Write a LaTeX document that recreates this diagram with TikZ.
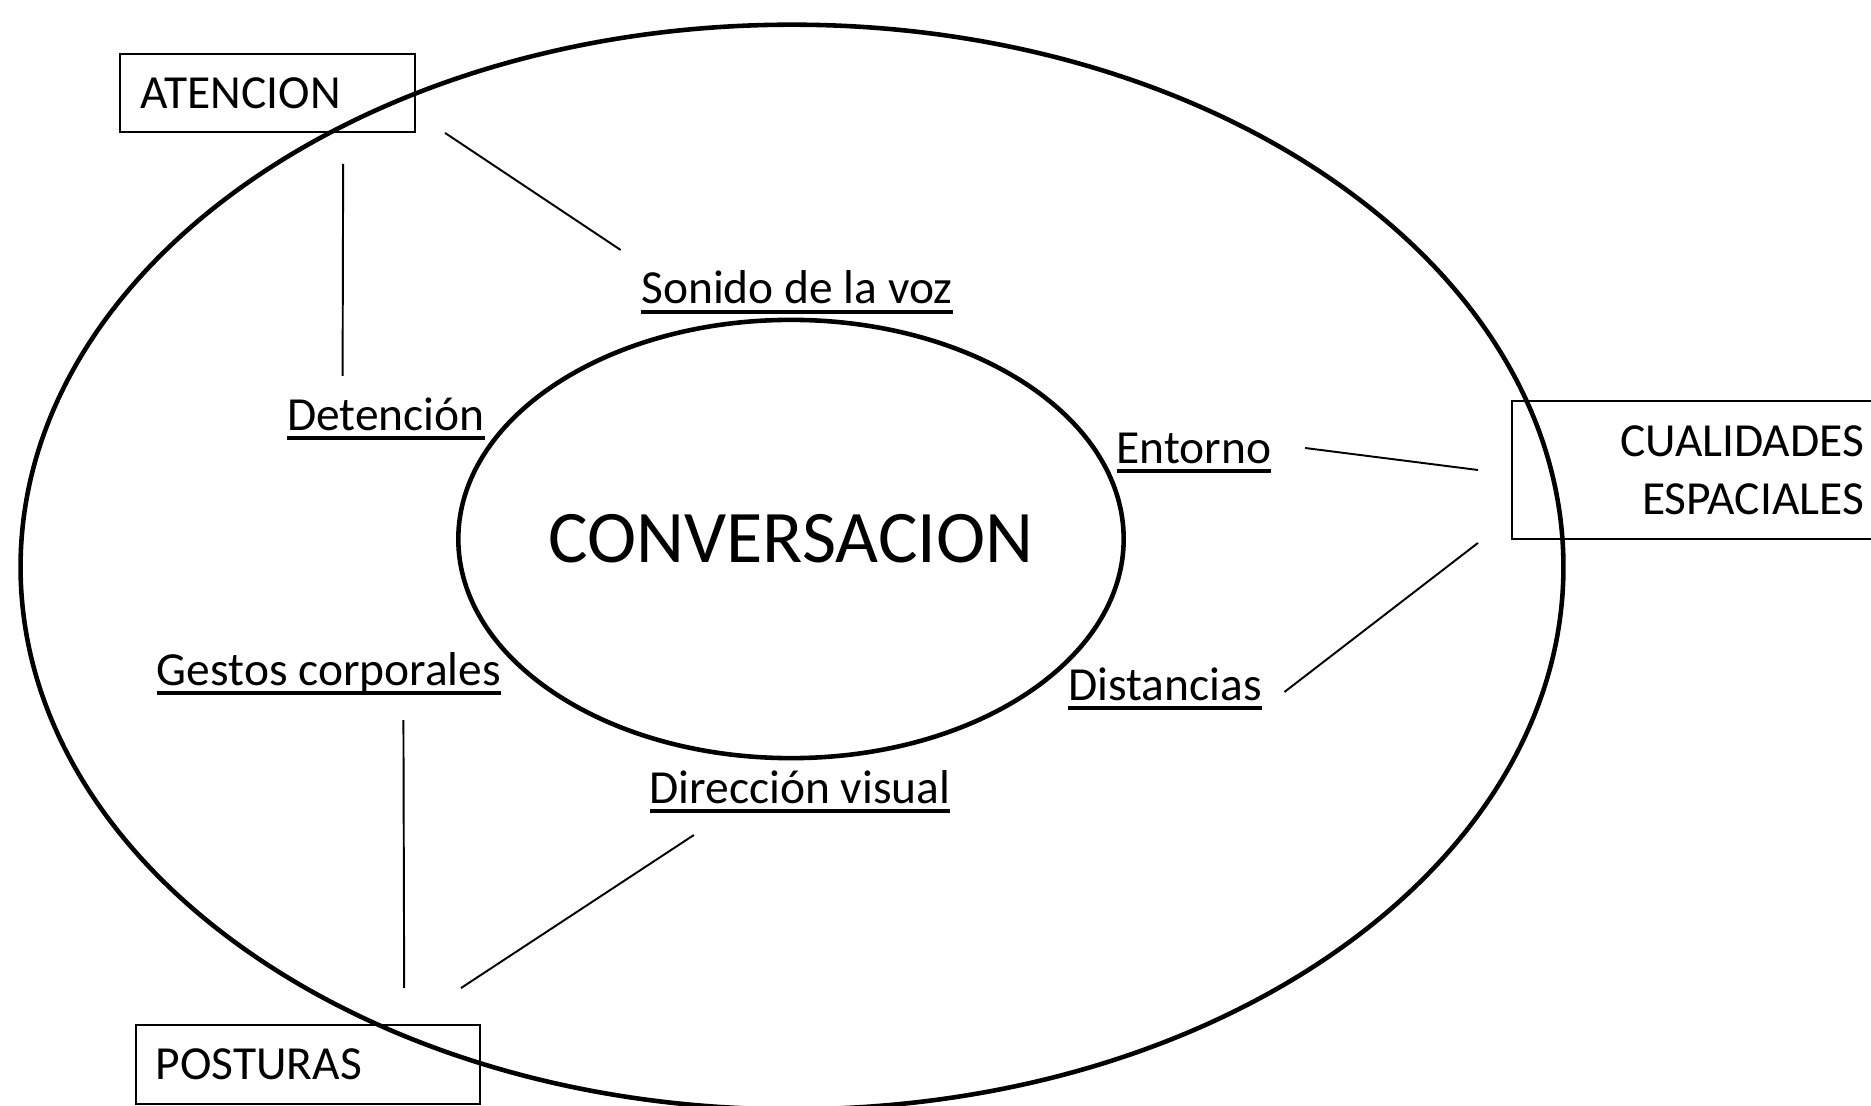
\documentclass[tikz,border=0pt]{standalone}
\usepackage{fontspec}
\setmainfont{Carlito}
\usetikzlibrary{shapes.geometric}
\newcommand{\undl}[1]{\setbox0=\hbox{#1}\rlap{\rule[-0.21em]{\wd0}{0.075em}}\box0}
\tikzset{every node/.style={font=\fontsize{13.5pt}{16.5pt}\selectfont}}

\begin{document}
\begin{tikzpicture}[x=0.01cm,y=-0.01cm]

\tikzstyle{box}=[draw,line width=0.5pt,inner ysep=0pt]
\tikzstyle{lbl}=[inner sep=0pt,anchor=base]
\tikzstyle{ring}=[draw,ellipse,line width=1.3pt,inner sep=0pt]
\tikzstyle{link}=[line width=0.55pt]

\useasboundingbox (0,0) rectangle (1871,1106);

 % the two rings
 \node[ring,minimum width=15.42cm,minimum height=10.84cm] (outer) at (792,567) {};
 \node[ring,minimum width=6.65cm,minimum height=4.38cm,
  font=\fontsize{21.1pt}{25pt}\selectfont] (conv) at (791,539) {\makebox[0pt]{CONVERSACION}};

 % boxes
 \node[box,minimum height=0.78cm,text width=2.53cm,inner xsep=0.21cm,align=left]
  (atencion) at (267.5,93) {ATENCION};
 \node[box,minimum height=1.38cm,text width=3.36cm,inner xsep=0.16cm,align=right]
  (cualidades) at (1696,470) {CUALIDADES\\ESPACIALES};
 \node[box,minimum height=0.79cm,text width=3.04cm,inner xsep=0.20cm,align=left]
  (posturas) at (308,1064.5) {POSTURAS};

 % labels
 \node[lbl] (sonido) at (797,304) {\undl{Sonido de la voz}};
 \node[lbl] (detencion) at (386,430) {\undl{Detención}};
 \node[lbl] (entorno) at (1194,463) {\undl{Entorno}};
 \node[lbl] (distancias) at (1165,700) {\undl{Distancias}};
 \node[lbl] (gestos) at (329,685) {\undl{Gestos corporales}};
 \node[lbl] (direccion) at (800,803) {\undl{Dirección visual}};

 \draw[link] ([xshift=0.29cm]atencion.south east) -- ([xshift=-0.2cm,yshift=0.54cm]sonido.base west);
 \draw[link] ([xshift=2.24cm,yshift=-0.31cm]atencion.south west) -- ([xshift=0.56cm,yshift=0.54cm]detencion.base west);
 \draw[link] ([xshift=0.33cm,yshift=0.15cm]entorno.base east) -- ([xshift=-0.33cm]cualidades.west);
 \draw[link] ([xshift=0.22cm,yshift=0.08cm]distancias.base east) -- ([xshift=-0.33cm,yshift=-0.03cm]cualidades.south west);
 \draw[link] ([xshift=2.47cm,yshift=-0.35cm]gestos.base west) -- ([xshift=2.69cm,yshift=0.36cm]posturas.north west);
 \draw[link] ([xshift=0.45cm,yshift=-0.32cm]direccion.base west) -- ([xshift=-0.2cm,yshift=0.36cm]posturas.north east);
\end{tikzpicture}
\end{document}
